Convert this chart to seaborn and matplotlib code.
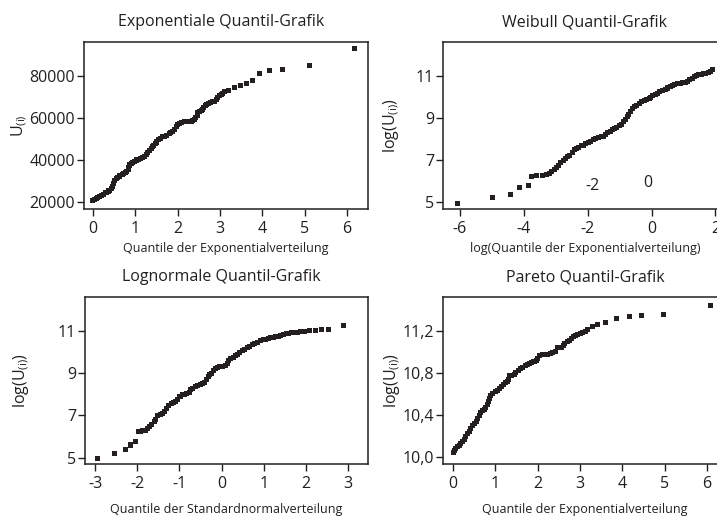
import numpy as np
import pandas as pd
import matplotlib
matplotlib.use("Agg")
import matplotlib.pyplot as plt
import seaborn as sns

# ---------------- data (order is irrelevant) ----------------
exp_x = [0.0, 0.08, 0.16, 0.25, 0.33, 0.39, 0.46, 0.51, 0.59, 0.69, 0.77, 0.83, 0.87,
         0.94, 1.02, 1.12, 1.22, 1.30, 1.38, 1.43, 1.51, 1.59, 1.69, 1.80, 1.89, 1.97,
         2.05, 2.17, 2.28, 2.36, 2.43, 2.48, 2.56, 2.61, 2.69, 2.77, 2.87, 2.95, 3.03,
         3.11, 3.20, 3.35, 3.48, 3.62, 3.76, 3.93, 4.17, 4.49, 5.11, 6.19,
         0.03, 0.12, 0.20, 0.29, 0.36, 0.43, 0.48, 0.55, 0.64, 0.73, 0.80, 0.84, 0.91,
         0.98, 1.07, 1.17, 1.26, 1.34, 1.40, 1.47, 1.55, 1.64, 1.74, 1.84, 1.93, 2.01,
         2.10, 2.22, 2.32, 2.39, 2.46, 2.52, 2.58, 2.65, 2.73, 2.83, 2.91, 2.99, 3.07]
exp_u = [20800, 21750, 22700, 23800, 24760, 25550, 27300, 30470, 31740, 33170, 33970,
         35550, 37620, 38730, 40000, 40950, 41740, 43490, 45390, 47140, 48570, 50470,
         51420, 52530, 53640, 55870, 57450, 58250, 58400, 58720, 60300, 62530, 63480,
         65070, 66660, 67600, 67930, 69830, 71260, 72500, 73300, 74300, 75700, 76650,
         77800, 81200, 82450, 83000, 84900, 92900,
         21270, 22220, 23170, 24290, 25240, 26350, 28890, 31110, 32380, 33490, 34760,
         36660, 38250, 39360, 40470, 41270, 42540, 44440, 46340, 47930, 49680, 51110,
         51900, 53010, 54760, 56820, 57930, 58410, 58560, 59520, 61420, 63010, 64280,
         65860, 67130, 67930, 68880, 70630, 71900]

wei_x = [-6.08, -4.98, -4.43, -4.14, -3.85, -3.76, -3.59, -3.42, -3.29, -3.13, -2.97,
         -2.84, -2.69, -2.56, -2.42, -2.29, -2.14, -1.98, -1.82, -1.67, -1.51, -1.38,
         -1.23, -1.09, -0.94, -0.81, -0.71, -0.60, -0.47, -0.31, -0.15, -0.02, 0.11,
         0.26, 0.42, 0.58, 0.73, 0.89, 1.05, 1.20, 1.34, 1.48, 1.62, 1.78, 1.92,
         -3.21, -3.05, -2.90, -2.76, -2.63, -2.48, -2.36, -2.21, -2.06, -1.90, -1.75,
         -1.58, -1.44, -1.30, -1.17, -1.02, -0.87, -0.76, -0.66, -0.54, -0.39, -0.23,
         -0.08, 0.04, 0.19, 0.34, 0.50, 0.65, 0.82, 0.96, 1.13, 1.28, 1.41, 1.55, 1.69, 1.84]
wei_y = [4.92, 5.21, 5.35, 5.68, 5.78, 6.21, 6.25, 6.25, 6.29, 6.44, 6.65, 6.87, 7.08,
         7.24, 7.48, 7.60, 7.71, 7.83, 7.98, 8.08, 8.14, 8.30, 8.46, 8.56, 8.71, 8.94,
         9.19, 9.46, 9.62, 9.78, 9.89, 9.98, 10.11, 10.25, 10.37, 10.49, 10.60, 10.65,
         10.68, 10.84, 10.97, 11.05, 11.10, 11.16, 11.30,
         6.37, 6.56, 6.76, 6.98, 7.16, 7.37, 7.54, 7.67, 7.78, 7.90, 8.03, 8.11, 8.22,
         8.38, 8.51, 8.63, 8.83, 9.06, 9.33, 9.54, 9.70, 9.84, 9.94, 10.05, 10.17, 10.32,
         10.43, 10.54, 10.63, 10.67, 10.76, 10.90, 11.02, 11.06, 11.13, 11.22]
wei_text = ["-2", "0"]
wei_text_x = [-1.86, -0.13]
wei_text_y = [5.78, 5.89]

lgn_x = [-2.94, -2.53, -2.27, -2.17, -2.05, -1.97, -1.88, -1.80, -1.70, -1.60, -1.52,
         -1.41, -1.30, -1.20, -1.09, -1.01, -0.93, -0.83, -0.73, -0.63, -0.51, -0.41,
         -0.32, -0.24, -0.14, -0.04, 0.08, 0.17, 0.28, 0.38, 0.49, 0.61, 0.73, 0.85,
         0.99, 1.10, 1.22, 1.34, 1.46, 1.59, 1.74, 1.88, 1.97, 2.09, 2.23, 2.37, 2.54, 2.90,
         -1.93, -1.84, -1.75, -1.66, -1.56, -1.46, -1.36, -1.25, -1.15, -1.05, -0.97,
         -0.88, -0.77, -0.68, -0.57, -0.46, -0.36, -0.28, -0.19, -0.10, 0.02, 0.13, 0.22,
         0.33, 0.43, 0.55, 0.67, 0.79, 0.91, 1.04, 1.17, 1.28, 1.40, 1.53, 1.66, 1.81, 1.92]
lgn_y = [4.95, 5.19, 5.39, 5.60, 5.76, 6.26, 6.28, 6.31, 6.47, 6.71, 6.99, 7.10, 7.34,
         7.56, 7.65, 7.88, 7.97, 8.02, 8.21, 8.35, 8.48, 8.57, 8.84, 9.01, 9.20, 9.30,
         9.36, 9.58, 9.76, 9.90, 10.06, 10.21, 10.34, 10.47, 10.58, 10.64, 10.69, 10.75,
         10.83, 10.88, 10.92, 10.96, 10.97, 11.00, 11.03, 11.07, 11.07, 11.26,
         6.26, 6.30, 6.39, 6.58, 6.83, 7.05, 7.21, 7.45, 7.61, 7.75, 7.92, 8.00, 8.11,
         8.29, 8.41, 8.52, 8.68, 8.92, 9.11, 9.25, 9.33, 9.47, 9.68, 9.83, 9.98, 10.13,
         10.28, 10.40, 10.53, 10.61, 10.67, 10.72, 10.80, 10.86, 10.91, 10.94, 10.97]

par_x = [0.0, 0.06, 0.14, 0.22, 0.30, 0.38, 0.46, 0.54, 0.62, 0.69, 0.77, 0.83, 0.88,
         0.99, 1.09, 1.18, 1.28, 1.32, 1.44, 1.54, 1.64, 1.75, 1.85, 1.96, 2.05, 2.17,
         2.29, 2.41, 2.46, 2.56, 2.64, 2.74, 2.84, 2.93, 3.06, 3.17, 3.29, 3.41, 3.59,
         3.85, 4.17, 4.46, 4.96, 6.09,
         0.02, 0.10, 0.18, 0.26, 0.34, 0.42, 0.50, 0.58, 0.65, 0.73, 0.80, 0.85, 0.93,
         1.04, 1.14, 1.23, 1.30, 1.38, 1.48, 1.59, 1.70, 1.80, 1.91, 2.00, 2.11, 2.22,
         2.35, 2.51, 2.60, 2.70, 2.79, 2.89, 3.00, 3.12]
par_y = [10.04, 10.08, 10.11, 10.15, 10.19, 10.24, 10.30, 10.34, 10.39, 10.44, 10.47,
         10.53, 10.58, 10.62, 10.65, 10.69, 10.72, 10.77, 10.78, 10.82, 10.85, 10.88,
         10.90, 10.92, 10.96, 10.97, 10.98, 11.00, 11.04, 11.04, 11.08, 11.11, 11.14,
         11.16, 11.18, 11.21, 11.24, 11.26, 11.28, 11.32, 11.33, 11.34, 11.35, 11.44,
         10.06, 10.10, 10.13, 10.17, 10.22, 10.27, 10.32, 10.37, 10.42, 10.45, 10.50,
         10.56, 10.60, 10.63, 10.67, 10.71, 10.74, 10.77, 10.80, 10.84, 10.87, 10.89,
         10.91, 10.94, 10.97, 10.97, 10.99, 11.04, 11.06, 11.10, 11.13, 11.15, 11.17, 11.19]

titles = ["Exponentiale Quantil-Grafik", "Weibull Quantil-Grafik",
          "Lognormale Quantil-Grafik", "Pareto Quantil-Grafik"]
xlabels = ["Quantile der Exponentialverteilung",
           "log(Quantile der Exponentialverteilung)",
           "Quantile der Standardnormalverteilung",
           "Quantile der Exponentialverteilung"]
ylabels = [r"U$_{(i)}$", r"log(U$_{(i)}$)", r"log(U$_{(i)}$)", r"log(U$_{(i)}$)"]

exp_xticks = [0, 1, 2, 3, 4, 5, 6]
exp_yticks = [20000, 40000, 60000, 80000]
wei_xticks = [-6, -4, -2, 0, 2]
log_yticks = [5, 7, 9, 11]
lgn_xticks = [-3, -2, -1, 0, 1, 2, 3]
par_yticks = [10.0, 10.4, 10.8, 11.2]
par_yticklabels = ["10,0", "10,4", "10,8", "11,2"]

# ---------------- styling ----------------
sns.set_theme(style="ticks")
plt.rcParams["font.family"] = ["Open Sans", "DejaVu Sans"]
plt.rcParams["mathtext.fontset"] = "custom"
plt.rcParams["mathtext.rm"] = "Open Sans"
plt.rcParams["mathtext.it"] = "Open Sans"
INK = "#231f20"
plt.rcParams.update({
    "axes.edgecolor": INK, "axes.linewidth": 1.1,
    "xtick.color": INK, "ytick.color": INK,
    "xtick.major.size": 5, "ytick.major.size": 5,
    "xtick.major.width": 1.0, "ytick.major.width": 1.0,
    "xtick.major.pad": 3.5, "ytick.major.pad": 1.5,
    "xtick.labelsize": 11.5, "ytick.labelsize": 11.5,
    "text.color": INK, "axes.labelcolor": INK,
})

W, H = 717, 518
fig = plt.figure(figsize=(W / 100, H / 100), dpi=100)

def px_axes(left, top, right, bottom):
    return fig.add_axes([left / W, 1 - bottom / H, (right - left) / W, (bottom - top) / H])

ax1 = px_axes(84, 42, 368, 209)
ax2 = px_axes(443, 42, 727, 209)
ax3 = px_axes(85, 297, 368, 464)
ax4 = px_axes(443, 297, 727, 464)

def pts(ax, x, y):
    df = pd.DataFrame({"x": x, "y": y})
    sns.scatterplot(data=df, x="x", y="y", ax=ax, marker="s", s=13, color=INK,
                    linewidth=0, edgecolor="none", legend=False)

pts(ax1, exp_x, exp_u)
pts(ax2, wei_x, wei_y)
pts(ax3, lgn_x, lgn_y)
pts(ax4, par_x, par_y)

ax1.set_xlim(-0.21, 6.50); ax1.set_ylim(16667, 96190)
ax1.set_xticks(exp_xticks); ax1.set_yticks(exp_yticks)
ax1.set_yticklabels([str(v) for v in exp_yticks])

ax2.set_xlim(-6.53, 2.36); ax2.set_ylim(4.67, 12.62)
ax2.set_xticks(wei_xticks); ax2.set_yticks(log_yticks)
ax2.set_xticklabels([str(v) for v in wei_xticks])
for t, tx, ty in zip(wei_text, wei_text_x, wei_text_y):
    ax2.text(tx, ty, t, ha="center", va="center", fontsize=11.5, color=INK)

ax3.set_xlim(-3.24, 3.47); ax3.set_ylim(4.70, 12.61)
ax3.set_xticks(lgn_xticks); ax3.set_yticks(log_yticks)
ax3.set_xticklabels([str(v) for v in lgn_xticks])

ax4.set_xlim(-0.24, 6.47); ax4.set_ylim(9.933, 11.52)
ax4.set_xticks(exp_xticks); ax4.set_yticks(par_yticks)
ax4.set_yticklabels(par_yticklabels)

axes = [ax1, ax2, ax3, ax4]
ylab_x = [-0.193, -0.148, -0.191, -0.145]
xlab_y = [-0.235, -0.235, -0.27, -0.27]
title_x = [0.482, 0.5, 0.48, 0.5]
for ax, t, xl, yl, lx, ly, tx in zip(axes, titles, xlabels, ylabels, ylab_x, xlab_y, title_x):
    ax.set_title(t, fontsize=11.5, pad=11.5, color=INK, x=tx)
    ax.set_xlabel(xl, fontsize=9)
    ax.set_ylabel(yl, fontsize=11.5)
    ax.yaxis.set_label_coords(lx, 0.5)
    ax.xaxis.set_label_coords(0.5, ly)
    ax.xaxis.label.set_va("center")
    for s in ax.spines.values():
        s.set_visible(True)
        s.set_color(INK)

fig.savefig("out.png", dpi=100)
